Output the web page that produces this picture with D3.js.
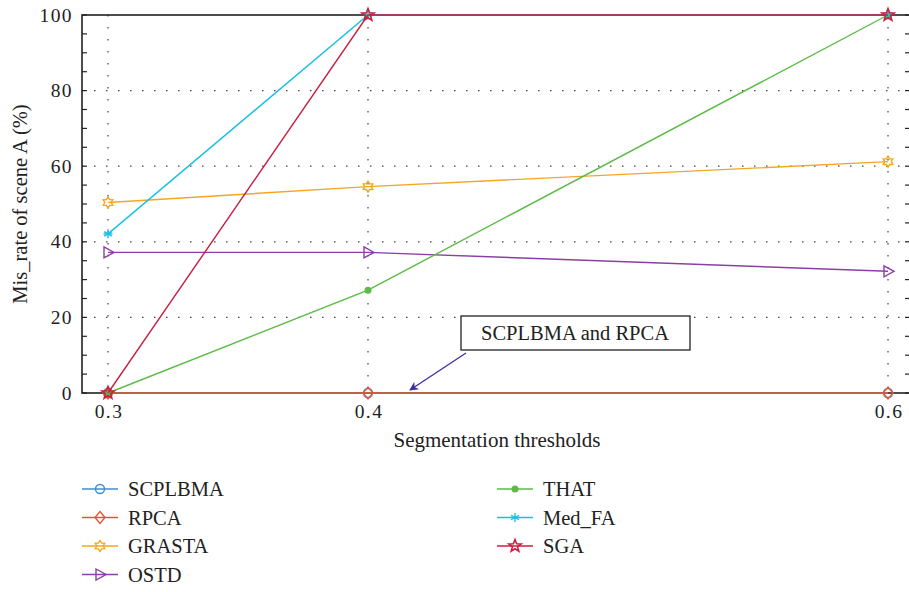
<!DOCTYPE html>
<html>
<head>
<meta charset="utf-8">
<script src="https://cdn.jsdelivr.net/npm/d3@7"></script>
<style>
  html, body { margin: 0; padding: 0; background: #fff; }
  svg { display: block; }
  text { font-family: "Liberation Serif", "DejaVu Serif", serif; fill: #222; }
</style>
</head>
<body>
<svg id="chart" width="909" height="592"></svg>
<script>
// Segmentation thresholds on the x axis
const thresholds = [0.3, 0.4, 0.6];
const xTicks = [0.3, 0.4, 0.6];
const yTicks = [0, 20, 40, 60, 80, 100];

// Mis-rate (%) per method at each threshold
const scplbma = [0, 0, 0];
const rpca    = [0, 0, 0];
const grasta  = [50.4, 54.6, 61.2];
const ostd    = [37.2, 37.2, 32.2];
const that    = [0, 27.2, 100];
const medFA   = [42.1, 100, 100];
const sga     = [0, 100, 100];

const methods = [
  { name: "SCPLBMA", values: scplbma, color: "#3b8ed4", marker: "circle" },
  { name: "RPCA",    values: rpca,    color: "#e4572e", marker: "diamond" },
  { name: "GRASTA",  values: grasta,  color: "#f5a524", marker: "hexagram" },
  { name: "OSTD",    values: ostd,    color: "#8b3fa8", marker: "triangle" },
  { name: "THAT",    values: that,    color: "#5bbb45", marker: "dot" },
  { name: "Med_FA",  values: medFA,   color: "#19c0e6", marker: "asterisk" },
  { name: "SGA",     values: sga,     color: "#c8203f", marker: "star" }
];

const svg = d3.select("#chart");
const plot = { left: 82, right: 910, top: 15, bottom: 393 };

const x = d3.scaleLinear().domain([0.29, 0.60846]).range([plot.left, plot.right]);
const y = d3.scaleLinear().domain([0, 100]).range([plot.bottom, plot.top]);

// dotted grid
const grid = svg.append("g");
grid.selectAll("line.gx").data(xTicks).join("line")
  .attr("x1", d => x(d)).attr("x2", d => x(d))
  .attr("y1", plot.top).attr("y2", plot.bottom)
  .attr("stroke", "#444").attr("stroke-width", 1.2)
  .attr("stroke-dasharray", "1.5,10.5");
grid.selectAll("line.gy").data(yTicks.filter(d => d > 0 && d < 100)).join("line")
  .attr("x1", plot.left).attr("x2", plot.right)
  .attr("y1", d => y(d)).attr("y2", d => y(d))
  .attr("stroke", "#444").attr("stroke-width", 1.2)
  .attr("stroke-dasharray", "1.5,10.5");

// frame
svg.append("rect")
  .attr("x", plot.left).attr("y", plot.top)
  .attr("width", plot.right - plot.left).attr("height", plot.bottom - plot.top)
  .attr("fill", "none").attr("stroke", "#222").attr("stroke-width", 1.6);

// inward ticks on both vertical axes, minor every 5
const yMinor = d3.range(0, 101, 5);
svg.append("g").selectAll("line").data(yMinor).join("line")
  .attr("x1", plot.left).attr("x2", plot.left + 5)
  .attr("y1", d => y(d)).attr("y2", d => y(d))
  .attr("stroke", "#222").attr("stroke-width", 1.2);
svg.append("g").selectAll("line").data(yMinor).join("line")
  .attr("x1", plot.right - 5).attr("x2", plot.right)
  .attr("y1", d => y(d)).attr("y2", d => y(d))
  .attr("stroke", "#222").attr("stroke-width", 1.2);

svg.append("g").selectAll("text").data(yTicks).join("text")
  .attr("x", plot.left - 9).attr("y", d => y(d) + 6.5)
  .attr("text-anchor", "end").attr("font-size", 19.5).attr("letter-spacing", 1.4)
  .text(d => d);

svg.append("g").selectAll("text").data(xTicks).join("text")
  .attr("x", d => x(d) + 1).attr("y", plot.bottom + 25)
  .attr("text-anchor", "middle").attr("font-size", 19.5).attr("letter-spacing", 1.4)
  .text(d => d3.format(".1f")(d));

// axis titles
svg.append("text")
  .attr("x", 497).attr("y", 447)
  .attr("text-anchor", "middle").attr("font-size", 21)
  .text("Segmentation thresholds");
svg.append("text")
  .attr("transform", `translate(27,${(plot.top + plot.bottom) / 2}) rotate(-90)`)
  .attr("text-anchor", "middle").attr("font-size", 20.5)
  .text("Mis_rate of scene A (%)");

// marker shapes
function starPath(r, n, inner) {
  const pts = [];
  for (let i = 0; i < 2 * n; i++) {
    const a = -Math.PI / 2 + i * Math.PI / n;
    const rr = i % 2 === 0 ? r : r * inner;
    pts.push([rr * Math.cos(a), rr * Math.sin(a)]);
  }
  return "M" + pts.map(p => p.join(",")).join("L") + "Z";
}
function drawMarker(g, type, cx, cy, color) {
  const m = g.append("g").attr("transform", `translate(${cx},${cy})`);
  const s = { fill: "none", stroke: color, "stroke-width": 1.4 };
  const apply = sel => { Object.entries(s).forEach(([k, v]) => sel.attr(k, v)); return sel; };
  switch (type) {
    case "circle":
      apply(m.append("circle").attr("r", 4.5)); break;
    case "diamond":
      apply(m.append("path").attr("d", "M0,-6L5,0L0,6L-5,0Z")); break;
    case "hexagram":
      apply(m.append("path").attr("d", starPath(5.5, 6, 0.6))); break;
    case "triangle":
      apply(m.append("path").attr("d", "M-4,-5.5L6,0L-4,5.5Z")); break;
    case "dot":
      m.append("circle").attr("r", 3.5).attr("fill", color); break;
    case "asterisk":
      [0, 60, 120].forEach(a => apply(m.append("line")
        .attr("x1", 0).attr("y1", -4.5).attr("x2", 0).attr("y2", 4.5)
        .attr("transform", `rotate(${a})`)));
      apply(m.append("line").attr("x1", -4.5).attr("x2", 4.5).attr("y1", 0).attr("y2", 0));
      break;
    case "star":
      apply(m.append("path").attr("d", starPath(6.5, 5, 0.42))).attr("stroke-width", 1.6); break;
  }
}

// series lines and markers
const line = d3.line().x((d, i) => x(thresholds[i])).y(d => y(d));
const series = svg.append("g");
methods.forEach(mth => {
  series.append("path").datum(mth.values)
    .attr("d", line).attr("fill", "none")
    .attr("stroke", mth.color).attr("stroke-width", 1.4);
  mth.values.forEach((v, i) => drawMarker(series, mth.marker, x(thresholds[i]), y(v), mth.color));
});

// annotation
const ann = svg.append("g");
ann.append("rect").attr("x", 461).attr("y", 316).attr("width", 229).attr("height", 34)
  .attr("fill", "#fff").attr("stroke", "#222").attr("stroke-width", 1.3);
ann.append("text").attr("x", 575).attr("y", 340).attr("text-anchor", "middle")
  .attr("font-size", 20.5).text("SCPLBMA and RPCA");
const defs = svg.append("defs");
defs.append("marker").attr("id", "arr").attr("viewBox", "0 0 10 10")
  .attr("refX", 9).attr("refY", 5).attr("markerWidth", 12).attr("markerHeight", 9)
  .attr("markerUnits", "userSpaceOnUse").attr("orient", "auto")
  .append("path").attr("d", "M0,0L10,5L0,10L3,5Z").attr("fill", "#3b2f9e");
ann.append("line").attr("x1", 466).attr("y1", 353).attr("x2", 410).attr("y2", 390)
  .attr("stroke", "#3b2f9e").attr("stroke-width", 1.3).attr("marker-end", "url(#arr)");

// legend in two columns
const legend = svg.append("g");
methods.forEach((mth, i) => {
  const col = i < 4 ? 0 : 1;
  const row = i < 4 ? i : i - 4;
  const lx = col === 0 ? 82 : 497;
  const ly = 489 + row * 28.5;
  legend.append("line").attr("x1", lx).attr("x2", lx + 36).attr("y1", ly).attr("y2", ly)
    .attr("stroke", mth.color).attr("stroke-width", 1.4);
  drawMarker(legend, mth.marker, lx + 18, ly, mth.color);
  legend.append("text").attr("x", lx + 46).attr("y", ly + 7).attr("font-size", 20.5).text(mth.name);
});
</script>
</body>
</html>
